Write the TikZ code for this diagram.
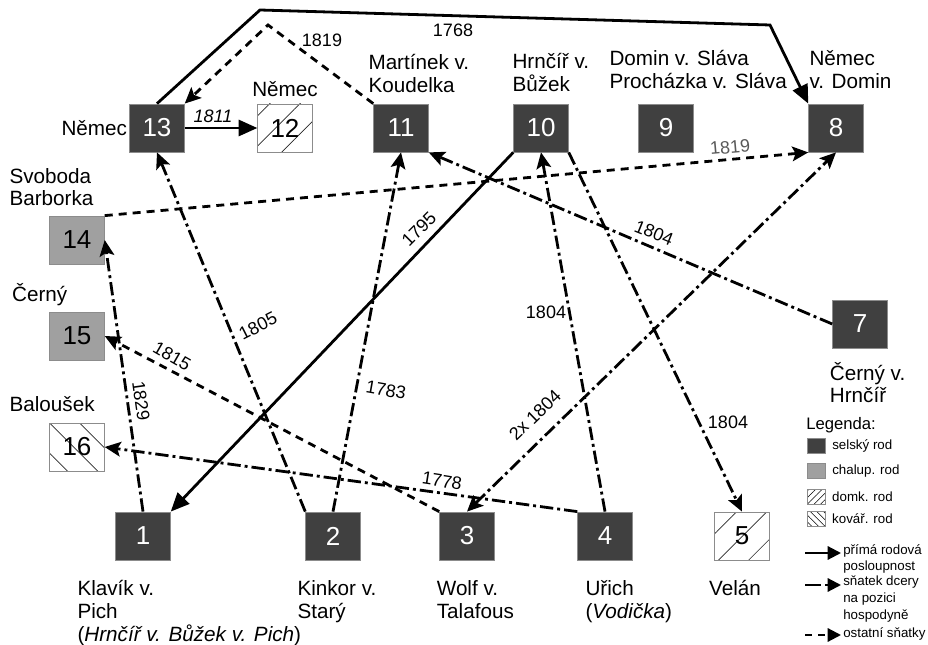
\documentclass[tikz,border=0pt]{standalone}
\usepackage{fontspec}
\setmainfont{Liberation Sans}
\usepackage{xcolor}
\definecolor{cSelsky}{HTML}{404040}
\definecolor{cChalup}{HTML}{A0A0A0}
\definecolor{cEdge}{HTML}{8C8C8C}
\definecolor{cGray}{HTML}{595959}
\usepackage{tikz}
\usetikzlibrary{positioning,arrows.meta,patterns.meta}
\tikzset{
  rod/.style={draw=cEdge,line width=0.6pt,minimum width=41pt,minimum height=36pt,
    inner sep=0pt,font=\fontsize{19.5}{19.5}\selectfont},
  rod-selsky/.style={rod,fill=cSelsky,text=white},
  rod-chalup/.style={rod,fill=cChalup},
  rod-domk/.style={rod,pattern={Lines[angle=45,distance=16pt,line width=0.5pt]},pattern color=black!85},
  rod-kovar/.style={rod,pattern={Lines[angle=-45,distance=16pt,line width=0.5pt]},pattern color=black!85},
  jmeno/.style={align=left,inner sep=0pt,font=\fontsize{15.5}{17}\selectfont},
  rok/.style={inner sep=1pt,font=\fontsize{13.5}{13.5}\selectfont},
  % legenda
  leg-box/.style={draw=cEdge,line width=0.5pt,minimum width=13.5pt,minimum height=11pt,inner sep=0pt},
  leg-text/.style={align=left,inner sep=0pt,anchor=west,font=\fontsize{10}{12.5}\selectfont},
  % spojnice
  arrow-prima/.style={-{Triangle[length=14pt,width=12pt]},line width=2.1pt},
  arrow-dcera/.style={-{Stealth[length=12pt,width=11pt,inset=2.5pt]},line width=2.1pt,
    dash pattern=on 10pt off 3pt on 2.2pt off 3pt},
  arrow-ostatni/.style={-{Stealth[length=12pt,width=11pt,inset=2.5pt]},line width=2.1pt,
    dash pattern=on 6pt off 4.5pt},
  leg-tip/.style={-{Triangle[length=10pt,width=10pt]},line width=1.6pt},
}

\begin{document}
\begin{tikzpicture}[x=0.75pt,y=-0.75pt]
  \useasboundingbox (0,0) rectangle (928,645);

  % usedlosti
  \node[rod-selsky] (n13) at (157,128) {13};
  \node[rod-domk]   (n12) at (285,128) {12};
  \node[rod-selsky] (n11) at (401,128) {11};
  \node[rod-selsky] (n10) at (541,128) {10};
  \node[rod-selsky] (n9)  at (666,128) {9};
  \node[rod-selsky] (n8)  at (836,128) {8};
  \node[rod-chalup] (n14) at (77,240)  {14};
  \node[rod-chalup] (n15) at (77,336)  {15};
  \node[rod-kovar]  (n16) at (77,447)  {16};
  \node[rod-selsky] (n7)  at (860,324) {7};
  \node[rod-selsky] (n1)  at (143,536) {1};
  \node[rod-selsky] (n2)  at (333,536) {2};
  \node[rod-selsky] (n3)  at (467,536) {3};
  \node[rod-selsky] (n4)  at (605,536) {4};
  \node[rod-domk]   (n5)  at (742,536) {5};

  % jmena rodu
  \node[jmeno,left=1.5pt of n13]                              (j13) {Němec};
  \node[jmeno,above=5pt of n12]                               (j12) {Němec};
  \node[jmeno,above right=8pt and -3.75pt of n11.north west]  (j11) {Martínek v.\\Koudelka};
  \node[jmeno,above right=9pt and -0.75pt of n10.north west]  (j10) {Hrnčíř v.\\Bůžek};
  \node[jmeno,above right=11pt and -21.75pt of n9.north west] (j9)  {Domin v. Sláva\\Procházka v. Sláva};
  \node[jmeno,above right=11pt and 0.75pt of n8.north west]   (j8)  {Němec\\v. Domin};
  \node[jmeno,above right=7pt and -30pt of n14.north west]    (j14) {Svoboda\\Barborka};
  \node[jmeno,above right=4pt and -28pt of n15.north west]    (j15) {Černý};
  \node[jmeno,above right=8pt and -30pt of n16.north west]    (j16) {Baloušek};
  \node[jmeno,below right=10pt and -2pt of n7.south west]     (j7)  {Černý v.\\Hrnčíř};
  \node[jmeno,below right=15pt and -28.5pt of n1.south west]  (j1)  {Klavík v.\\Pich\\(\textit{Hrnčíř v. Bůžek v. Pich})};
  \node[jmeno,below right=15pt and -6pt of n2.south west]     (j2)  {Kinkor v.\\Starý};
  \node[jmeno,below right=15pt and -2pt of n3.south west]     (j3)  {Wolf v.\\Talafous};
  \node[jmeno,below right=15pt and 6pt of n4.south west]      (j4)  {Uřich\\(\textit{Vodička})};
  \node[jmeno,below right=15pt and -4pt of n5.south west]     (j5)  {Velán};

  % lomy spojnic
  \coordinate (k1) at (260,10);
  \coordinate (k2) at (770,25);
  \coordinate (k3) at (268,25);

  % prima rodova posloupnost
  \draw[arrow-prima] (n13.north) -- (k1) -- (k2) -- (n8.north west);
  \draw[arrow-prima] (n13.east) -- (n12.west);
  \draw[arrow-prima] (n10.south west) -- (n1.north east);
  % ostatni snatky
  \draw[arrow-ostatni] (n11.north west) -- (k3) -- (n13.north east);
  \draw[arrow-ostatni] (n14.north east) -- (n8.south west);
  \draw[arrow-ostatni] (n3.north west) -- (n15.east);
  % snatky dcer
  \draw[arrow-dcera] (n1.north) -- (n14.east);
  \draw[arrow-dcera] (n2.north west) -- (n13.south);
  \draw[arrow-dcera] (n2.north) -- (n11.south);
  \draw[arrow-dcera] (n4.north) -- (n10.south);
  \draw[arrow-dcera] (n10.south east) -- (n5.north);
  \draw[arrow-dcera] (n7.west) -- (n11.south east);
  \draw[arrow-dcera] (n4.north west) -- (n16.east);
  \draw[arrow-dcera,{Stealth[length=12pt,width=11pt,inset=2.5pt]}-{Stealth[length=12pt,width=11pt,inset=2.5pt]}] (n3.north) -- (n8.south);

  % roky
  \node[rok]                  (t1768)  at (453,30)  {1768};
  \node[rok]                  (t1819a) at (322,40)  {1819};
  \node[rok,font=\fontsize{13.5}{13.5}\selectfont\itshape] (t1811) at (213,116) {1811};
  \node[rok,text=cGray,rotate=5]  (t1819b) at (730,147) {1819};
  \node[rok,rotate=-82]       (t1829)  at (141,401) {1829};
  \node[rok,rotate=27]        (t1805)  at (258,326) {1805};
  \node[rok,rotate=-30]       (t1815)  at (172,356) {1815};
  \node[rok,rotate=-10]       (t1783)  at (386,390) {1783};
  \node[rok,rotate=45]        (t1795)  at (419,229) {1795};
  \node[rok]                  (t1804a) at (546,312) {1804};
  \node[rok,rotate=-22]       (t1804b) at (654,233) {1804};
  \node[rok]                  (t1804c) at (728,422) {1804};
  \node[rok,rotate=-9]        (t1778)  at (442,481) {1778};
  \node[rok,rotate=44]        (t2x1804) at (535,415) {2x 1804};

  % legenda
  \node[leg-text,font=\fontsize{12.5}{12.5}\selectfont] (leg) at (806,425) {Legenda:};
  \node[leg-box,fill=cSelsky] (lg1) at (816,446) {};
  \node[leg-box,fill=cChalup] (lg2) at (816,471) {};
  \node[leg-box,pattern={Lines[angle=45,distance=3.5pt,line width=0.4pt]}]  (lg3) at (816,497) {};
  \node[leg-box,pattern={Lines[angle=-45,distance=3.5pt,line width=0.4pt]}] (lg4) at (816,519) {};
  \node[leg-text,right=5pt of lg1] (lt1) {selský rod};
  \node[leg-text,right=5pt of lg2] (lt2) {chalup. rod};
  \node[leg-text,right=5pt of lg3] (lt3) {domk. rod};
  \node[leg-text,right=5pt of lg4] (lt4) {kovář. rod};

  \coordinate (la1) at (805,553); \coordinate (lb1) at (841,553);
  \coordinate (la2) at (805,585); \coordinate (lb2) at (841,585);
  \coordinate (la3) at (805,635); \coordinate (lb3) at (841,635);
  \draw[leg-tip] (la1) -- (lb1);
  \draw[leg-tip,dash pattern=on 12pt off 3pt on 2pt off 3pt] (la2) -- (lb2);
  \draw[leg-tip,dash pattern=on 5pt off 5pt] (la3) -- (lb3);
  \node[leg-text] (lt5) at (843,559) {přímá rodová\\posloupnost};
  \node[leg-text] (lt6) at (843,599) {sňatek dcery\\na pozici\\hospodyně};
  \node[leg-text] (lt7) at (843,634) {ostatní sňatky};
\end{tikzpicture}
\end{document}
